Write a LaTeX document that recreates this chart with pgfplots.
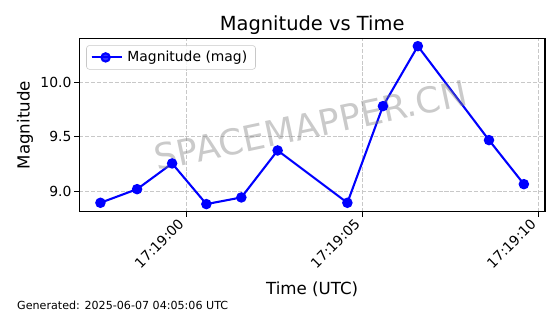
\documentclass[border=0pt]{standalone}
\usepackage{fontspec}
\setmainfont{DejaVu Sans}
\usepackage{pgfplots}
\pgfplotsset{compat=1.18}
\definecolor{gridc}{RGB}{200,200,200}
\definecolor{mplblue}{RGB}{0,0,255}
\begin{document}
\begin{tikzpicture}
\path[use as bounding box] (-57.1pt,-73.6pt) rectangle (346.1pt,152.6pt);
\begin{axis}[
  scale only axis, width=335.3pt, height=125pt,
  at={(0,0)}, anchor=south west,
  xmin=-3.04, xmax=10.18, ymin=8.809, ymax=10.402,
  xtick={0,5,10}, xticklabels={17:19:00,17:19:05,17:19:10},
  ytick={9,9.5,10},
  y tick label style={/pgf/number format/fixed, /pgf/number format/fixed zerofill, /pgf/number format/precision=1, inner sep=2pt},
  /pgf/number format/assume math mode=true,
  tick label style={font=\fontsize{10}{12}\selectfont},
  x tick label style={xshift=-6.5pt, yshift=1pt, rotate=45, anchor=north east, inner sep=1pt},
  tick align=outside, major tick length=3.5pt,
  tick style={black, line width=0.8pt},
  tick pos=left,
  axis line style={line width=0.8pt},
  grid=major, grid style={gridc, line width=0.8pt, dash pattern=on 2.96pt off 1.28pt},
  legend style={at={(0,1)}, anchor=north west, xshift=5pt, yshift=-5pt,
    draw=gridc, rounded corners=2pt, fill=white, fill opacity=0.8, text opacity=1,
    font=\fontsize{10}{12}\selectfont, inner xsep=3pt, inner ysep=2pt, row sep=0pt,
    nodes={inner xsep=3pt}},
  legend cell align=left,
  legend image code/.code={
    \draw[#1, line width=1.5pt] (0pt,0pt) -- (20pt,0pt);
    \fill[mplblue] (10pt,0pt) circle (3pt);
    \path (0pt,0pt) -- (22pt,0pt);
  },
]
\addplot[mplblue, line width=1.5pt, mark=*, mark size=3pt, mark options={mplblue}]
  coordinates {
  (-2.44,8.893)
  (-1.40,9.018)
  (-0.405,9.254)
  (0.567,8.881)
  (1.56,8.942)
  (2.59,9.373)
  (4.57,8.893)
  (5.58,9.780)
  (6.57,10.330)
  (8.59,9.468)
  (9.58,9.064)
  };
\addlegendentry{Magnitude (mag)}
\node[rotate=12, text=gray, text opacity=0.42, font=\fontsize{25.5}{30}\selectfont]
  at (rel axis cs:0.497,0.5) {SPACEMAPPER.CN};
\end{axis}
\node[font=\fontsize{14}{17}\selectfont] at (167.65pt,134.5pt) {Magnitude vs Time};
\node[font=\fontsize{12}{14}\selectfont] at (167.65pt,-56pt) {Time (UTC)};
\node[font=\fontsize{12}{14}\selectfont, rotate=90] at (-39.1pt,62.5pt) {Magnitude};
\node[font=\fontsize{8}{10}\selectfont, anchor=west, inner sep=0pt] at (-44.9pt,-67pt) {Generated: 2025-06-07 04:05:06 UTC};
\end{tikzpicture}
\end{document}
